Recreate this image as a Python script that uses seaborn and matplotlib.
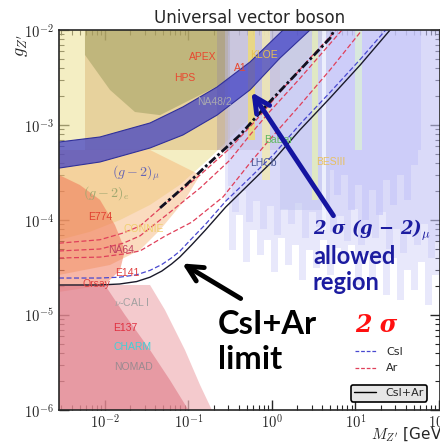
import numpy as np
import matplotlib.pyplot as plt
import seaborn as sns
from matplotlib.lines import Line2D
from matplotlib.ticker import FuncFormatter, LogLocator, NullFormatter

sns.set_style("ticks")
plt.rcParams['font.family'] = ['DejaVu Sans']
plt.rcParams['mathtext.fontset'] = 'cm'

# --- sensitivity curves (M in GeV, coupling g) ---
csiar_M = [2.82e-3, 8.7e-3, 0.015, 0.024, 0.0347, 0.048, 0.063, 0.079, 0.11, 0.16, 0.28, 0.55, 1.05, 2.17, 4.95, 11.4, 26]
csiar_g = [2.07e-5, 2.07e-5, 2.12e-5, 2.25e-5, 2.5e-5, 2.9e-5, 3.45e-5, 4.08e-5, 5.5e-5, 7.85e-5, 1.37e-4, 2.45e-4, 4.28e-4, 8.9e-4, 1.92e-3, 4.28e-3, 1e-2]
csi_M = [2.82e-3, 8.7e-3, 0.015, 0.024, 0.0347, 0.048, 0.063, 0.079, 0.11, 0.16, 0.28, 0.55, 1.05, 2.17, 4.95, 11.4, 23]
csi_g = [2.45e-5, 2.45e-5, 2.5e-5, 2.65e-5, 2.95e-5, 3.4e-5, 4.0e-5, 4.7e-5, 6.4e-5, 9.0e-5, 1.58e-4, 2.8e-4, 4.9e-4, 1.02e-3, 2.2e-3, 4.9e-3, 1e-2]
ar1_M = [2.82e-3, 8.73e-3, 0.0166, 0.0263, 0.0603, 0.138, 0.315, 0.65, 1.25, 2.86, 5.9]
ar1_g = [5.7e-5, 6.2e-5, 7.3e-5, 8.65e-5, 1.63e-4, 2.98e-4, 5.7e-4, 1.13e-3, 2.22e-3, 5.07e-3, 1e-2]
ar2_M = [2.82e-3, 8.73e-3, 0.0166, 0.0263, 0.0603, 0.138, 0.315, 0.546, 0.91, 2.17, 6.9]
ar2_g = [4.72e-5, 4.95e-5, 5.7e-5, 6.8e-5, 1.21e-4, 2.17e-4, 4.28e-4, 7.85e-4, 1.34e-3, 3.1e-3, 1e-2]
ar3_M = [2.82e-3, 8.73e-3, 0.0166, 0.0263, 0.053, 0.11, 0.26, 0.546, 0.87, 2.17, 4.96, 12]
ar3_g = [3.98e-5, 4.07e-5, 4.38e-5, 4.72e-5, 6.8e-5, 9.5e-5, 1.75e-4, 3.98e-4, 6.5e-4, 1.62e-3, 3.8e-3, 1e-2]
thick_M = [0.0457, 0.091, 0.168, 0.415, 0.91, 2.17, 4.96, 5.6]
thick_g = [1.34e-4, 2.28e-4, 3.8e-4, 7.85e-4, 1.7e-3, 3.8e-3, 8.2e-3, 1e-2]

# --- (g-2)_mu allowed band ---
band_up_M = [2.82e-3, 8.73e-3, 3.47e-2, 8.6e-2, 0.22, 0.546, 1.36]
band_up_g = [6.62e-4, 7.48e-4, 1.05e-3, 1.55e-3, 2.51e-3, 4.6e-3, 1e-2]
band_lo_M = [2.82e-3, 8.73e-3, 3.47e-2, 8.6e-2, 0.22, 0.546, 1.25, 2.86]
band_lo_g = [3.52e-4, 4.08e-4, 5.73e-4, 7.85e-4, 1.27e-3, 2.34e-3, 5.07e-3, 1e-2]

# --- excluded regions ---
ge_M = [2.82e-3, 4.96, 2.17, 0.95, 0.415, 0.181, 7.9e-2, 3.47e-2, 1.52e-2, 6.6e-3, 2.82e-3]
ge_g = [1e-2, 1e-2, 3.98e-3, 1.83e-3, 9.3e-4, 4.5e-4, 2.34e-4, 1.44e-4, 1e-4, 7.5e-5, 6.16e-5]
connie_M = [2.82e-3, 3.47e-2, 0.138, 9.1e-2, 4.57e-2, 2.63e-2, 1.15e-2, 2.82e-3]
connie_g = [5.46e-4, 5.46e-4, 2.98e-4, 1.63e-4, 7.85e-5, 4.83e-5, 3.36e-5, 2.64e-5]
e774_M = [2.82e-3, 5.0e-3, 8.73e-3, 1.32e-2, 1.74e-2, 1.52e-2, 1e-2, 2.82e-3]
e774_g = [2.98e-4, 2.34e-4, 1.63e-4, 8.85e-5, 4.83e-5, 2.98e-5, 2.07e-5, 1.75e-5]
nomad_M = [2.82e-3, 3.47e-2, 5.24e-2, 9.1e-2, 0.138, 0.191, 2.82e-3]
nomad_g = [2.07e-5, 2.07e-5, 1.13e-5, 4.28e-6, 1.83e-6, 1e-6, 1e-6]
e137_M = [2.82e-3, 1e-2, 1.74e-2, 3.47e-2, 6.0e-2, 0.1, 2.82e-3]
e137_g = [2.07e-5, 2.07e-5, 1e-5, 4.28e-6, 2.07e-6, 1e-6, 1e-6]
hps_M = [5.77e-3, 0.315, 0.315, 5.77e-3]
hps_g = [1e-2, 1e-2, 5.46e-4, 5.46e-4]
apex_M = [5.77e-3, 0.315, 0.315, 0.104, 4.57e-2, 2.29e-2, 1.15e-2, 5.77e-3]
apex_g = [1e-2, 1e-2, 2.98e-3, 1.83e-3, 1.27e-3, 1.37e-3, 2.34e-3, 5.46e-3]
na48_M = [0.22, 1.25, 1.25, 0.22]
na48_g = [1e-2, 1e-2, 5.46e-4, 5.46e-4]
babar_M = [1.25, 4.96, 4.96, 1.25]
babar_g = [1e-2, 1e-2, 1.27e-4, 1.27e-4]

# LHCb-like searches: two light layers with streaky lower edges
lhcb_M = [0.274, 0.333, 0.404, 0.489, 0.593, 0.719, 0.873, 1.06, 1.29, 1.56, 1.89, 2.29, 2.78,
          3.37, 4.09, 4.96, 6.01, 7.29, 8.85, 10.7, 13.0, 15.8, 19.2, 23.2, 28.2, 34.2, 41.5,
          50.3, 61.0, 74.0, 89.8, 109]
lhcb_g = [1.63e-4, 4.83e-5, 1.13e-4, 3.61e-5, 7.85e-5, 4.28e-5, 6.16e-5, 2.84e-5, 6.47e-5, 3.36e-5,
          5.46e-5, 2.34e-5, 4.83e-5, 3.13e-5, 6.16e-5, 2.64e-5, 5.07e-5, 3.61e-5, 5.46e-5, 2.07e-5,
          4.28e-5, 2.45e-5, 3.61e-5, 1.63e-5, 3.98e-5, 1.44e-5, 2.98e-5, 1.83e-5, 3.61e-5, 1.27e-5,
          2.64e-5, 1.83e-5]
lhcb2_M = [0.302, 0.367, 0.445, 0.539, 0.653, 0.792, 0.962, 1.17, 1.42, 1.72, 2.08, 2.52, 3.06,
           3.71, 4.50, 5.46, 6.62, 8.03, 9.73, 11.8, 14.3, 17.4, 21.1, 25.6, 31.1, 37.7, 45.7,
           55.4, 67.2, 81.5, 98.9]
lhcb2_g = [2.3e-4, 1.2e-4, 2.0e-4, 9.5e-5, 1.6e-4, 8.0e-5, 1.4e-4, 7.0e-5, 1.3e-4, 9.0e-5, 1.5e-4,
           6.5e-5, 1.2e-4, 8.5e-5, 1.4e-4, 7.5e-5, 1.1e-4, 6.0e-5, 1.3e-4, 5.5e-5, 9.0e-5, 6.5e-5,
           1.2e-4, 5.0e-5, 8.0e-5, 4.5e-5, 7.0e-5, 5.5e-5, 9.0e-5, 4.0e-5, 6.0e-5]
# dense block of dark-photon searches
dp_M = [4.96, 6.01, 7.29, 8.85, 10.7, 13.0, 15.8, 19.2, 23.2, 28.2, 34.2, 41.5, 50.3, 61.0]
dp_g = [3.36e-4, 1.83e-4, 2.98e-4, 1.27e-4, 2.34e-4, 1e-4, 2.07e-4, 1.13e-4, 2.64e-4, 1.44e-4,
        2.98e-4, 1.63e-4, 3.79e-4, 5.46e-4]

# narrow vertical bands
stripe_lo = [0.523, 0.76, 3.02, 3.98, 10.0]
stripe_hi = [0.62, 0.95, 3.56, 4.4, 12.0]
stripe_bot = [6.95e-4, 2.64e-4, 1.63e-4, 7.85e-5, 5.46e-4]
stripe_col = ['#f0dc70', '#f2eab0', '#e6efb8', '#f4f8ff', '#dcefd6']

# experiment labels
lab_text = ['APEX', 'HPS', 'A1', 'NA48/2', 'KLOE', 'BaBar', 'LHCb', 'BESIII', 'E774', 'CONNIE',
            'NA64', 'E141', 'Orsay', r'$\nu$-CAL I', 'E137', 'CHARM', 'NOMAD']
lab_M = [0.15, 9.1e-2, 0.415, 0.208, 0.80, 1.2, 0.78, 5.1, 8.73e-3, 2.94e-2,
         1.56e-2, 1.84e-2, 8.0e-3, 2.1e-2, 1.74e-2, 2.17e-2, 2.23e-2]
lab_g = [5.2e-3, 3.1e-3, 3.98e-3, 1.75e-3, 5.46e-3, 6.95e-4, 3.98e-4, 4.08e-4, 1.08e-4, 8.04e-5,
         4.83e-5, 2.77e-5, 2.12e-5, 1.37e-5, 7.3e-6, 4.6e-6, 2.84e-6]
lab_col = ['#e84830', '#e84830', '#e84830', '#a8a8b0', '#e8c050', '#60b860', '#4a5898', '#e8c060',
           '#e04030', '#f0d070', '#c04060', '#e04040', '#e04040', '#a0a0a0', '#e03040', '#40d0d8',
           '#9a8a90']

fig = plt.figure(figsize=(4.4, 4.43), dpi=100)
ax = fig.add_axes([59 / 440, 33 / 443, 381 / 440, 380 / 443])
ax.set_xscale('log')
ax.set_yscale('log')
ax.set_xlim(2.82e-3, 103)
ax.set_ylim(1e-6, 1e-2)

# background regions
ax.fill(ge_M, ge_g, color='#eee39c', alpha=0.6, lw=0, zorder=1)
ax.fill(hps_M, hps_g, color='#d8b070', alpha=0.45, lw=0, zorder=1)
ax.fill(apex_M, apex_g, color='#8c9050', alpha=0.42, lw=0, zorder=1)
ax.fill(na48_M, na48_g, color='#9080a8', alpha=0.3, lw=0, zorder=1)
ax.fill(connie_M, connie_g, color='#f5b070', alpha=0.45, lw=0, zorder=1)
ax.fill(e774_M, e774_g, color='#f07050', alpha=0.5, lw=0, zorder=1)
ax.fill(nomad_M, nomad_g, color='#f0b4b8', alpha=0.7, lw=0, zorder=1)
ax.fill(e137_M, e137_g, color='#d86070', alpha=0.45, lw=0, zorder=1)
ax.fill(babar_M, babar_g, color='#a0b4e0', alpha=0.35, lw=0, zorder=1)
ax.fill_between(lhcb_M, lhcb_g, 1e-2, step='mid', color='#c4c4f6', alpha=0.38, lw=0, zorder=1)
ax.fill_between(lhcb2_M, lhcb2_g, 1e-2, step='mid', color='#c4c4f6', alpha=0.38, lw=0, zorder=1)
ax.fill_between(dp_M, dp_g, 1e-2, step='mid', color='#c8c8fa', alpha=0.7, lw=0, zorder=1)
for lo, hi, bot, col in zip(stripe_lo, stripe_hi, stripe_bot, stripe_col):
    ax.fill([lo, hi, hi, lo], [1e-2, 1e-2, bot, bot], color=col, alpha=0.8, lw=0, zorder=1)

# (g-2)_mu band
ax.fill(np.concatenate([band_up_M, band_lo_M[::-1]]),
        np.concatenate([band_up_g, band_lo_g[::-1]]),
        color='#3c3cc4', alpha=0.72, lw=0, zorder=2)
sns.lineplot(x=band_up_M, y=band_up_g, color='#30309a', lw=0.8, ax=ax, zorder=2)
sns.lineplot(x=band_lo_M, y=band_lo_g, color='#30309a', lw=0.8, ax=ax, zorder=2)

# sensitivity curves
for M, g in [(ar1_M, ar1_g), (ar2_M, ar2_g), (ar3_M, ar3_g)]:
    sns.lineplot(x=M, y=g, color='#e0405a', lw=0.9, linestyle=(0, (4, 2)), ax=ax, zorder=3)
sns.lineplot(x=thick_M, y=thick_g, color='#101020', lw=2.0, linestyle=(0, (3, 1, 1, 1)), ax=ax, zorder=3)
sns.lineplot(x=csi_M, y=csi_g, color='#4848d0', lw=0.9, linestyle=(0, (4, 2)), ax=ax, zorder=3)
sns.lineplot(x=csiar_M, y=csiar_g, color='#1a1a2a', lw=1.0, ax=ax, zorder=3)

# experiment labels
for t, m, g, c in zip(lab_text, lab_M, lab_g, lab_col):
    ax.text(m, g, t, color=c, fontsize=7.5, family='Liberation Sans', ha='center', va='center', zorder=4)
ax.text(2.36e-2, 3.13e-4, r'$(g-2)_\mu$', color='#6464b4', fontsize=10, ha='center', va='center', zorder=4)
ax.text(1.03e-2, 1.92e-4, r'$(g-2)_e$', color='#a0a870', fontsize=10, ha='center', va='center', zorder=4)

# annotations
ax.annotate('', xy=(0.546, 2.34e-3), xytext=(5.69, 1.05e-4),
            arrowprops=dict(arrowstyle='->', lw=3.5, color='#1414a0', mutation_scale=28), zorder=5)
ax.annotate('', xy=(7.9e-2, 3.61e-5), xytext=(0.451, 1.44e-5),
            arrowprops=dict(arrowstyle='->', lw=3.5, color='black', mutation_scale=28), zorder=5)
ax.text(3.1, 7.85e-5, r'2 σ (g − 2)$_{\mu}$', color='#1c1ca0', fontsize=13, family='DejaVu Serif',
        weight='bold', style='italic', ha='left', va='center', zorder=5)
ax.text(3.1, 4.08e-5, 'allowed', color='#1c1ca0', fontsize=17, family='Lato', weight='bold',
        ha='left', va='center', zorder=5)
ax.text(3.1, 2.22e-5, 'region', color='#1c1ca0', fontsize=17, family='Lato', weight='bold',
        ha='left', va='center', zorder=5)
ax.text(0.226, 7.85e-6, 'CsI+Ar', color='black', fontsize=23.5, family='Lato', weight='bold',
        ha='left', va='center', zorder=5)
ax.text(0.226, 3.36e-6, 'limit', color='black', fontsize=23.5, family='Lato', weight='bold',
        ha='left', va='center', zorder=5)
ax.text(10, 7.85e-6, '2 σ', color='#ff1010', fontsize=17, family='DejaVu Serif', weight='bold',
        style='italic', ha='left', va='center', zorder=5)

# legends
h1 = [Line2D([], [], color='#4848d0', lw=0.9, ls=(0, (3, 1.5))),
      Line2D([], [], color='#e0405a', lw=0.9, ls=(0, (3, 1.5)))]
leg1 = ax.legend(h1, ['CsI', 'Ar'], loc='upper left', bbox_to_anchor=(0.765, 0.178),
                 frameon=False, fontsize=8, handlelength=2.0, borderaxespad=0, labelspacing=0.6)
ax.add_artist(leg1)
h2 = [Line2D([], [], color='black', lw=1.0)]
leg2 = ax.legend(h2, ['CsI+Ar'], loc='lower left', bbox_to_anchor=(0.766, 0.022), frameon=True,
                 fontsize=8, handlelength=2.0, borderaxespad=0, fancybox=True, framealpha=1,
                 borderpad=0.3)
leg2.get_frame().set_edgecolor('black')
leg2.get_frame().set_facecolor('#e6e6e6')
leg2.get_frame().set_linewidth(1.2)

# axes styling
fmt = FuncFormatter(lambda v, p: r'$10^{%d}$' % round(np.log10(v)))
for axis in (ax.xaxis, ax.yaxis):
    axis.set_major_locator(LogLocator(base=10, numticks=10))
    axis.set_minor_locator(LogLocator(base=10, subs=np.arange(2, 10), numticks=20))
    axis.set_major_formatter(fmt)
    axis.set_minor_formatter(NullFormatter())
ax.tick_params(which='both', direction='in', top=True, right=True, labelsize=10.5)
ax.tick_params(which='major', length=7, width=1)
ax.tick_params(which='minor', length=3.5, width=0.8)
ax.tick_params(axis='x', which='major', pad=2)
for s in ax.spines.values():
    s.set_linewidth(1.2)
    s.set_zorder(6)

ax.set_title('Universal vector boson', fontsize=12, pad=5)
ax.text(-0.1, 0.96, r"$g_{Z'}$", transform=ax.transAxes, rotation=90, fontsize=13,
        ha='center', va='center')
ax.text(0.82, -0.066, r"$M_{Z'}$ [GeV]", transform=ax.transAxes, fontsize=11,
        ha='left', va='center')

fig.savefig('out.png', dpi=100)
